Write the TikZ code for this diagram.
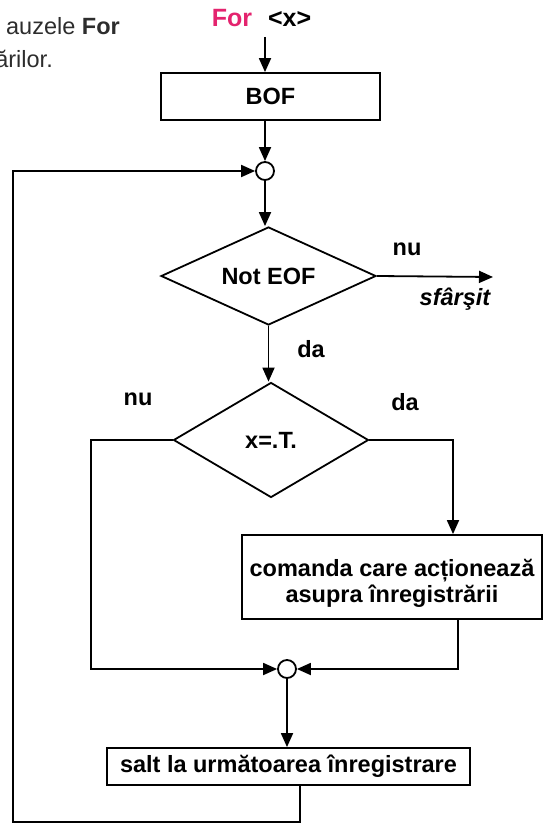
\documentclass[tikz,border=0pt]{standalone}
\usepackage{fontspec}
\setmainfont{Liberation Sans}
\usetikzlibrary{arrows.meta,shapes.geometric}
\definecolor{formag}{RGB}{228,35,110}
\definecolor{topgray}{RGB}{45,45,45}
\begin{document}
\begin{tikzpicture}[x=1pt,y=-1pt,
  every node/.style={font=\fontsize{23.5}{27}\selectfont\bfseries},
  ln/.style={line width=1.8pt},
  arr/.style={ln,-{Triangle[length=14pt,width=12pt]}},
  boxnode/.style={draw,ln,rectangle,inner sep=0pt},
  dec/.style={draw,ln,diamond,inner sep=0pt},
  jn/.style={draw,ln,circle,minimum size=18pt,inner sep=0pt,fill=white},
  lbl/.style={anchor=base,inner sep=0pt}]
\useasboundingbox (0,0) rectangle (551,824);
% partial text at the top left
\node[lbl,anchor=base east,text=topgray] (t1) at (120,35) {\mdseries auzele \bfseries For};
\node[lbl,anchor=base east,text=topgray] (t2) at (53,68) {\mdseries ărilor.};
% title
\node[lbl,font=\fontsize{25}{29}\selectfont\bfseries] (title) at (261.5,27) {\textcolor{formag}{For}\hspace{16pt}<x>};
\coordinate (s0) at (265,37);
% nodes
\node[boxnode,minimum width=219pt,minimum height=47pt] (bof) at (270.5,96.5) {BOF};
\node[jn] (c1) at (265,171) {};
\node[dec,aspect=2.18,minimum width=215pt,minimum height=98pt] (d1) at (268.5,276) {Not EOF};
\node[dec,aspect=1.7,minimum width=195pt,minimum height=115pt] (d2) at (271,440) {x=.T.};
\node[boxnode,minimum width=300pt,minimum height=84pt] (cmd) at (392,577) {};
\node[align=center,inner sep=0pt,font=\fontsize{23.5}{26}\selectfont\bfseries] (cmdtxt) at (392,583) {comanda care acționează\\asupra înregistrării};
\node[jn] (c2) at (287,669) {};
\node[boxnode,minimum width=363pt,minimum height=37pt] (salt) at (288.5,766.5) {salt la următoarea înregistrare};
\coordinate (endp) at (493,277);
% labels
\node[lbl] (nu1) at (407,255) {nu};
\node[lbl] (sf) at (455,305) {\itshape sfârşit};
\node[lbl] (da1) at (311,357) {da};
\node[lbl] (nu2) at (138,405) {nu};
\node[lbl] (da2) at (405,410) {da};
% connectors
\draw[arr] (s0) -- (s0 |- bof.north);
\draw[arr] (c1 |- bof.south) -- (c1.north);
\draw[arr] (c1.south) -- (c1.south |- d1.north);
\draw[arr] (d1.east) -- (endp);
\draw[arr] (d1.south) -- (d1.south |- d2.north);
\coordinate (lc) at (91,669);
\draw[arr] (d2.west) -| (lc) -- (c2.west);
\coordinate (rc) at (453,440);
\draw[arr] (d2.east) -- (rc) -- (rc |- cmd.north);
\coordinate (rb) at (458,669);
\draw[arr] (rb |- cmd.south) -- (rb) -- (c2.east);
\draw[arr] (c2.south) -- (c2.south |- salt.north);
\coordinate (lb) at (13,822);
\coordinate (sx) at (300,822);
\draw[arr] (sx |- salt.south) -- (sx) -- (lb) -- (lb |- c1) -- (c1.west);
\end{tikzpicture}
\end{document}
